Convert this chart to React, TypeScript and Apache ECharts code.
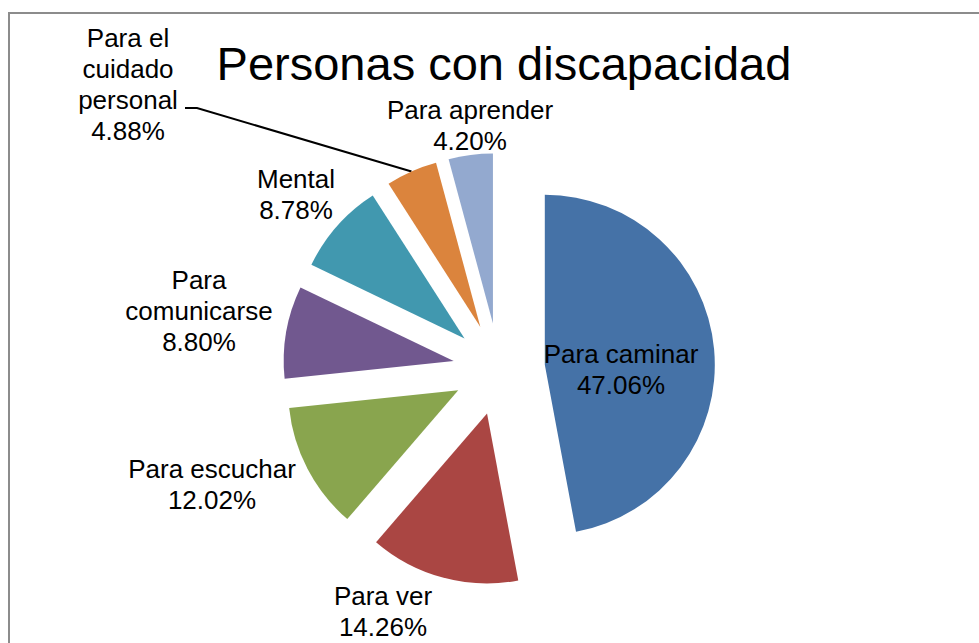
import React, { useEffect, useRef } from "react";
import * as echarts from "echarts";

const TITLE = "Personas con discapacidad";
const categories = [
  "Para caminar",
  "Para ver",
  "Para escuchar",
  "Para comunicarse",
  "Mental",
  "Para el cuidado personal",
  "Para aprender",
];
const labelNames = [
  "Para caminar",
  "Para ver",
  "Para escuchar",
  "Para\ncomunicarse",
  "Mental",
  "Para el\ncuidado\npersonal",
  "Para aprender",
];
const values = [47.06, 14.26, 12.02, 8.8, 8.78, 4.88, 4.2];
const colors = ["#4572A7", "#AA4643", "#89A54E", "#71588F", "#4198AF", "#DB843D", "#93A9CF"];

// layout constants
const CENTER = [499, 369];
const RADIUS = 170;
const EXPLODE = 46;
const labelPos = [
  [621, 369],
  [383, 611],
  [212, 484],
  [199, 311],
  [296, 194],
  [128, 84],
  [470, 125],
];

export default function App() {
  const ref = useRef<HTMLDivElement>(null);
  useEffect(() => {
    if (!ref.current) return;
    const chart = echarts.init(ref.current, null, { renderer: "svg" });
    const font = "'Liberation Sans', Arial, sans-serif";
    chart.setOption({
      animation: false,
      backgroundColor: "#ffffff",
      title: {
        text: TITLE,
        left: 499,
        top: 35,
        textAlign: "center",
        textStyle: { fontFamily: font, fontSize: 47, fontWeight: "normal", color: "#000" },
      },
      graphic: [
        {
          type: "rect",
          shape: { x: 9, y: 13, width: 1000, height: 700 },
          style: { fill: "none", stroke: "#8C8C8C", lineWidth: 2 },
          silent: true,
        },
      ],
      series: [
        {
          type: "pie",
          center: CENTER,
          radius: [0, RADIUS],
          startAngle: 90,
          clockwise: true,
          selectedMode: "multiple",
          selectedOffset: EXPLODE,
          avoidLabelOverlap: false,
          emphasis: { disabled: true },
          label: { show: false },
          labelLine: { show: false },
          data: categories.map((name, i) => ({
            name,
            value: values[i],
            selected: true,
            itemStyle: { color: colors[i], borderWidth: 0 },
            select: { itemStyle: { color: colors[i], borderWidth: 0 } },
          })),
        },
        {
          type: "pie",
          center: CENTER,
          radius: [0, RADIUS],
          startAngle: 90,
          clockwise: true,
          silent: true,
          selectedMode: false,
          avoidLabelOverlap: false,
          emphasis: { disabled: true },
          itemStyle: { color: "rgba(0,0,0,0)", borderWidth: 0 },
          label: {
            show: true,
            position: "outside",
            fontFamily: font,
            fontSize: 26,
            lineHeight: 31,
            color: "#000",
            align: "center",
            formatter: (p: any) => labelNames[p.dataIndex] + "\n" + p.value.toFixed(2) + "%",
          },
          labelLine: { show: false },
          labelLayout: (p: any) => {
            const [x, y] = labelPos[p.dataIndex];
            const out: any = { x, y, align: "center", verticalAlign: "middle" };
            if (p.dataIndex === 5 && p.labelLinePoints) {
              const p0 = p.labelLinePoints[0];
              const dx = p0[0] - CENTER[0];
              const dy = p0[1] - CENTER[1];
              const d = Math.sqrt(dx * dx + dy * dy);
              const k = (d + EXPLODE) / d;
              const start = [CENTER[0] + dx * k, CENTER[1] + dy * k];
              out.labelLinePoints = [start, [x + 69, y + 24], [x + 57, y + 24]];
            }
            return out;
          },
          data: categories.map((name, i) => ({
            name,
            value: values[i],
            labelLine:
              i === 5
                ? { show: true, length: 20, length2: 10, lineStyle: { color: "#000", width: 2 } }
                : { show: false },
          })),
        },
      ],
    });
    return () => chart.dispose();
  }, []);
  return (
    <div
      ref={ref}
      style={{ position: "fixed", left: 0, top: 0, width: 979, height: 643 }}
    />
  );
}
